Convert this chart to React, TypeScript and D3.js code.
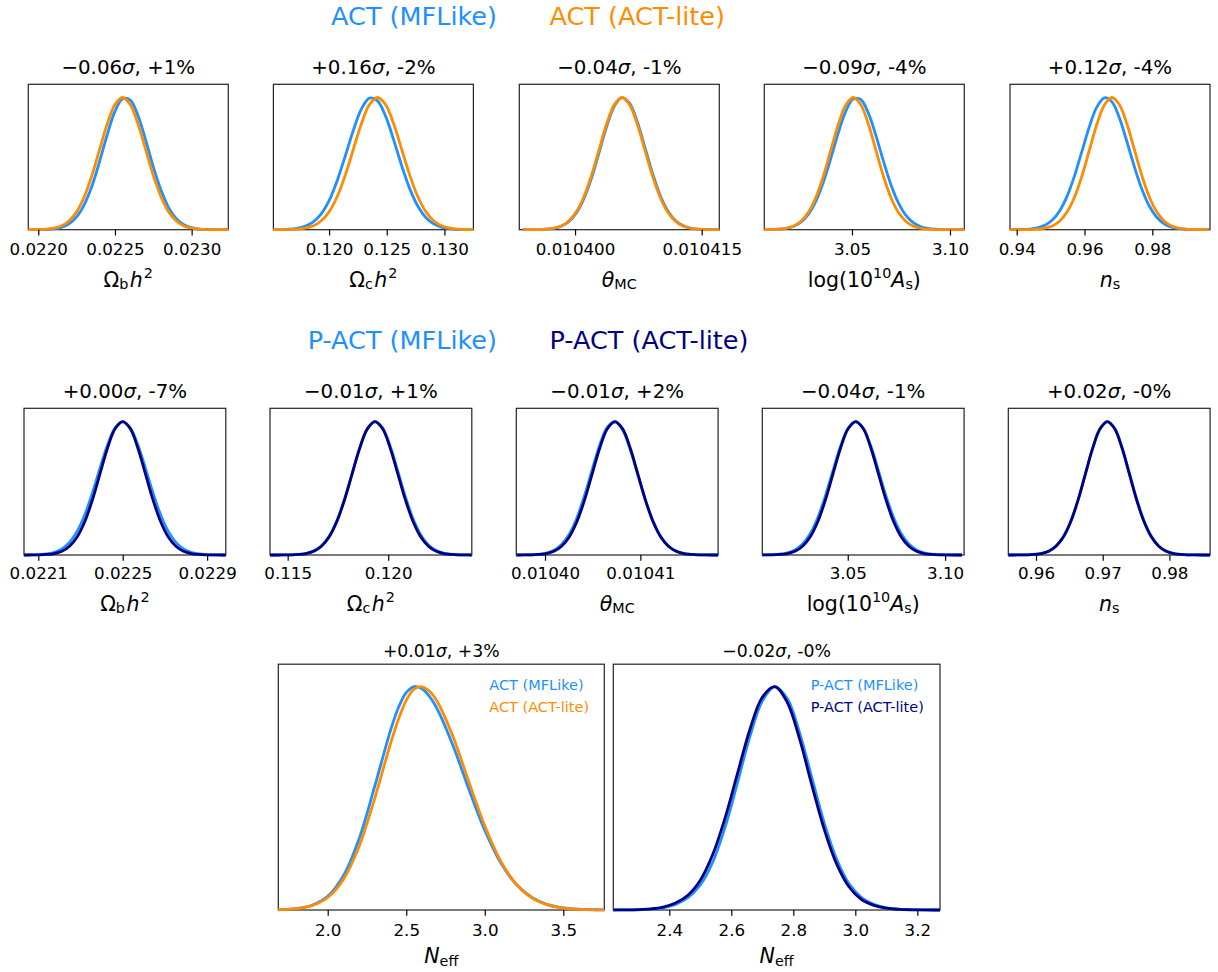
import React, { useEffect, useRef } from 'react';
import * as d3 from 'd3';

const W = 1218;
const H = 972;
const BLUE = '#1e90ff';
const ORANGE = '#ff8c00';
const NAVY = '#000080';
const FONT = '"DejaVu Sans", sans-serif';
const YMAX = 1.1;

// ---------- series labels ----------
const actNames = ['ACT (MFLike)', 'ACT (ACT-lite)'];
const pactNames = ['P-ACT (MFLike)', 'P-ACT (ACT-lite)'];

// ---------- panel titles (shift in sigma, change in error bar) ----------
const actShift = [-0.06, 0.16, -0.04, -0.09, 0.12];
const actWidth = ['+1%', '-2%', '-1%', '-4%', '-4%'];
const pactShift = [0.0, -0.01, -0.01, -0.04, 0.02];
const pactWidth = ['-7%', '+1%', '+2%', '-1%', '-0%'];
const neffShift = [0.01, -0.02];
const neffWidth = ['+3%', '-0%'];

// ---------- parameters ----------
const rowParams = ['ombh2', 'omch2', 'theta', 'logA', 'ns'];

// ---------- axis limits ----------
const actLimits: [number, number][] = [[0.021935, 0.023239], [0.115173, 0.132513], [0.0103934, 0.01041708], [3.00526, 3.1073], [0.93802, 0.99702]];
const pactLimits: [number, number][] = [[0.0220323, 0.0229885], [0.114121, 0.124156], [0.01039699, 0.01041815], [3.00612, 3.10976], [0.95585, 0.9861]];
const neffLimits: [number, number][] = [[1.6854, 3.7611], [2.2194, 3.2732]];

// ---------- tick values / labels ----------
const actTicks = [[0.022, 0.0225, 0.023], [0.12, 0.125, 0.13], [0.0104, 0.010415], [3.05, 3.1], [0.94, 0.96, 0.98]];
const actTickLabels = [['0.0220', '0.0225', '0.0230'], ['0.120', '0.125', '0.130'], ['0.010400', '0.010415'], ['3.05', '3.10'], ['0.94', '0.96', '0.98']];
const pactTicks = [[0.0221, 0.0225, 0.0229], [0.115, 0.12], [0.0104, 0.01041], [3.05, 3.1], [0.96, 0.97, 0.98]];
const pactTickLabels = [['0.0221', '0.0225', '0.0229'], ['0.115', '0.120'], ['0.01040', '0.01041'], ['3.05', '3.10'], ['0.96', '0.97', '0.98']];
const neffTicks = [[2.0, 2.5, 3.0, 3.5], [2.4, 2.6, 2.8, 3.0, 3.2]];
const neffTickLabels = [['2.0', '2.5', '3.0', '3.5'], ['2.4', '2.6', '2.8', '3.0', '3.2']];

// ---------- marginal posteriors (normalised to peak = 1) ----------
// ACT, Omega_b h^2
const actOmbh2X = [0.0219, 0.02195, 0.022, 0.02205, 0.0221, 0.02215, 0.0222, 0.02225, 0.0223, 0.02235, 0.0224, 0.02245, 0.0225, 0.02255, 0.0226, 0.02265, 0.0227, 0.02275, 0.0228, 0.02285, 0.0229, 0.02295, 0.023, 0.02305, 0.0231, 0.02315, 0.0232, 0.02325];
const actOmbh2MF = [0, 0.0002, 0.0006, 0.002, 0.006, 0.018, 0.044, 0.097, 0.19, 0.33, 0.517, 0.72, 0.895, 0.991, 0.98, 0.864, 0.679, 0.475, 0.3, 0.167, 0.083, 0.037, 0.015, 0.005, 0.0016, 0.0005, 0.0001, 0];
const actOmbh2Lite = [0, 0.0003, 0.0012, 0.004, 0.011, 0.028, 0.066, 0.135, 0.249, 0.411, 0.607, 0.801, 0.946, 1, 0.946, 0.801, 0.607, 0.411, 0.249, 0.135, 0.066, 0.028, 0.011, 0.004, 0.0012, 0.0003, 0.0001, 0];
// ACT, Omega_c h^2
const actOmch2X = [0.1151, 0.1158, 0.1165, 0.1172, 0.1179, 0.1186, 0.1193, 0.12, 0.1207, 0.1214, 0.1221, 0.1228, 0.1235, 0.1242, 0.1249, 0.1256, 0.1263, 0.127, 0.1277, 0.1284, 0.1291, 0.1298, 0.1305, 0.1312, 0.1319, 0.1326];
const actOmch2MF = [0.0003, 0.0011, 0.0034, 0.0096, 0.025, 0.057, 0.118, 0.22, 0.371, 0.557, 0.751, 0.912, 0.995, 0.975, 0.859, 0.68, 0.483, 0.309, 0.177, 0.091, 0.043, 0.018, 0.0066, 0.0022, 0.0007, 0.0002];
const actOmch2Lite = [0.0001, 0.0003, 0.0012, 0.004, 0.011, 0.028, 0.066, 0.135, 0.249, 0.411, 0.607, 0.801, 0.946, 1, 0.946, 0.801, 0.607, 0.411, 0.249, 0.135, 0.066, 0.028, 0.011, 0.004, 0.0012, 0.0003];
// ACT, theta_MC
const actThetaX = [0.01039385, 0.01039475, 0.01039565, 0.01039655, 0.01039745, 0.01039835, 0.01039925, 0.01040015, 0.01040105, 0.01040195, 0.01040285, 0.01040375, 0.01040465, 0.01040555, 0.01040645, 0.01040735, 0.01040825, 0.01040915, 0.01041005, 0.01041095, 0.01041185, 0.01041275, 0.01041365, 0.01041455, 0.01041545, 0.01041635, 0.01041725];
const actThetaMF = [0.00007, 0.0003, 0.0011, 0.0034, 0.0099, 0.026, 0.06, 0.126, 0.235, 0.391, 0.584, 0.782, 0.934, 0.999, 0.957, 0.82, 0.629, 0.432, 0.265, 0.146, 0.072, 0.031, 0.0124, 0.0044, 0.0014, 0.0004, 0.0001];
const actThetaLite = [0.0001, 0.0003, 0.0012, 0.004, 0.011, 0.028, 0.066, 0.135, 0.249, 0.411, 0.607, 0.801, 0.946, 1, 0.946, 0.801, 0.607, 0.411, 0.249, 0.135, 0.066, 0.028, 0.011, 0.004, 0.0012, 0.0003, 0.0001];
// ACT, log(10^10 A_s)
const actLogAX = [3.0051, 3.0089, 3.0127, 3.0165, 3.0203, 3.0241, 3.0279, 3.0317, 3.0355, 3.0393, 3.0431, 3.0469, 3.0507, 3.0545, 3.0583, 3.0621, 3.0659, 3.0697, 3.0735, 3.0773, 3.0811, 3.0849, 3.0887, 3.0925, 3.0963, 3.1001, 3.1039, 3.1077];
const actLogAMF = [0.0004, 0.0012, 0.0038, 0.0105, 0.026, 0.059, 0.12, 0.22, 0.365, 0.546, 0.737, 0.899, 0.99, 0.985, 0.884, 0.717, 0.526, 0.348, 0.208, 0.112, 0.055, 0.024, 0.0095, 0.0034, 0.0011, 0.0003, 0.0001, 0];
const actLogALite = [0.0003, 0.0012, 0.004, 0.011, 0.028, 0.066, 0.135, 0.249, 0.411, 0.607, 0.801, 0.946, 1, 0.946, 0.801, 0.607, 0.411, 0.249, 0.135, 0.066, 0.028, 0.011, 0.004, 0.0012, 0.0003, 0.0001, 0.00002, 0];
// ACT, n_s
const actNsX = [0.9373, 0.9395, 0.9417, 0.9439, 0.9461, 0.9483, 0.9505, 0.9527, 0.9549, 0.9571, 0.9593, 0.9615, 0.9637, 0.9659, 0.9681, 0.9703, 0.9725, 0.9747, 0.9769, 0.9791, 0.9813, 0.9835, 0.9857, 0.9879, 0.9901, 0.9923, 0.9945, 0.9967];
const actNsMF = [0.0001, 0.0005, 0.0017, 0.0051, 0.0137, 0.033, 0.073, 0.144, 0.256, 0.411, 0.598, 0.785, 0.931, 0.998, 0.967, 0.845, 0.667, 0.477, 0.307, 0.179, 0.094, 0.045, 0.019, 0.0075, 0.0026, 0.0008, 0.0002, 0.0001];
const actNsLite = [0.00002, 0.0001, 0.0003, 0.0012, 0.004, 0.011, 0.028, 0.066, 0.135, 0.249, 0.411, 0.607, 0.801, 0.946, 1, 0.946, 0.801, 0.607, 0.411, 0.249, 0.135, 0.066, 0.028, 0.011, 0.004, 0.0012, 0.0003, 0.0001];

// P-ACT, Omega_b h^2
const pactOmbh2X = [0.022032, 0.022068, 0.022104, 0.02214, 0.022176, 0.022212, 0.022248, 0.022284, 0.02232, 0.022356, 0.022392, 0.022428, 0.022464, 0.0225, 0.022536, 0.022572, 0.022608, 0.022644, 0.02268, 0.022716, 0.022752, 0.022788, 0.022824, 0.02286, 0.022896, 0.022932, 0.022968, 0.023004];
const pactOmbh2MF = [0.0003, 0.001, 0.003, 0.0081, 0.02, 0.046, 0.095, 0.177, 0.3, 0.463, 0.649, 0.825, 0.953, 1, 0.953, 0.825, 0.649, 0.463, 0.3, 0.177, 0.095, 0.046, 0.02, 0.0081, 0.003, 0.001, 0.0003, 0.0001];
const pactOmbh2Lite = [0.0001, 0.0003, 0.0012, 0.004, 0.011, 0.028, 0.066, 0.135, 0.249, 0.411, 0.607, 0.801, 0.946, 1, 0.946, 0.801, 0.607, 0.411, 0.249, 0.135, 0.066, 0.028, 0.011, 0.004, 0.0012, 0.0003, 0.0001, 0.00002];
// P-ACT, Omega_c h^2
const pactOmch2X = [0.11402, 0.1144, 0.11478, 0.11516, 0.11554, 0.11592, 0.1163, 0.11668, 0.11706, 0.11744, 0.11782, 0.1182, 0.11858, 0.11896, 0.11934, 0.11972, 0.1201, 0.12048, 0.12086, 0.12124, 0.12162, 0.122, 0.12238, 0.12276, 0.12314, 0.12352, 0.1239, 0.12428];
const pactOmch2MF = [0.00003, 0.0001, 0.0004, 0.0014, 0.0044, 0.0122, 0.031, 0.069, 0.14, 0.254, 0.415, 0.607, 0.798, 0.942, 1.0, 0.953, 0.816, 0.627, 0.434, 0.269, 0.15, 0.075, 0.034, 0.0137, 0.0049, 0.0016, 0.0005, 0.0001];
const pactOmch2Lite = [0.00002, 0.0001, 0.0003, 0.0012, 0.004, 0.011, 0.028, 0.066, 0.135, 0.249, 0.411, 0.607, 0.801, 0.946, 1, 0.946, 0.801, 0.607, 0.411, 0.249, 0.135, 0.066, 0.028, 0.011, 0.004, 0.0012, 0.0003, 0.0001];
// P-ACT, theta_MC
const pactThetaX = [0.01039694, 0.01039774, 0.01039854, 0.01039934, 0.01040014, 0.01040094, 0.01040174, 0.01040254, 0.01040334, 0.01040414, 0.01040494, 0.01040574, 0.01040654, 0.01040734, 0.01040814, 0.01040894, 0.01040974, 0.01041054, 0.01041134, 0.01041214, 0.01041294, 0.01041374, 0.01041454, 0.01041534, 0.01041614, 0.01041694, 0.01041774, 0.01041854];
const pactThetaMF = [0.0001, 0.0005, 0.0018, 0.0054, 0.0147, 0.036, 0.079, 0.156, 0.278, 0.445, 0.639, 0.825, 0.958, 0.999, 0.938, 0.79, 0.599, 0.408, 0.25, 0.137, 0.068, 0.03, 0.0121, 0.0043, 0.0014, 0.0004, 0.0001, 0.00003];
const pactThetaLite = [0.0001, 0.0003, 0.0012, 0.004, 0.011, 0.028, 0.066, 0.135, 0.249, 0.411, 0.607, 0.801, 0.946, 1, 0.946, 0.801, 0.607, 0.411, 0.249, 0.135, 0.066, 0.028, 0.011, 0.004, 0.0012, 0.0003, 0.0001, 0.00002];
// P-ACT, log(10^10 A_s)
const pactLogAX = [3.0034, 3.0073, 3.0112, 3.0151, 3.019, 3.0229, 3.0268, 3.0307, 3.0346, 3.0385, 3.0424, 3.0463, 3.0502, 3.0541, 3.058, 3.0619, 3.0658, 3.0697, 3.0736, 3.0775, 3.0814, 3.0853, 3.0892, 3.0931, 3.097, 3.1009, 3.1048, 3.1087];
const pactLogAMF = [0.0002, 0.0006, 0.0021, 0.006, 0.016, 0.038, 0.082, 0.159, 0.279, 0.441, 0.631, 0.815, 0.95, 1, 0.95, 0.815, 0.631, 0.441, 0.279, 0.159, 0.082, 0.038, 0.016, 0.006, 0.0021, 0.0006, 0.0002, 0.00004];
const pactLogALite = [0.0001, 0.0003, 0.0012, 0.004, 0.011, 0.028, 0.066, 0.135, 0.249, 0.411, 0.607, 0.801, 0.946, 1, 0.946, 0.801, 0.607, 0.411, 0.249, 0.135, 0.066, 0.028, 0.011, 0.004, 0.0012, 0.0003, 0.0001, 0.00002];
// P-ACT, n_s
const pactNsX = [0.9553, 0.9564, 0.9575, 0.9586, 0.9597, 0.9608, 0.9619, 0.963, 0.9641, 0.9652, 0.9663, 0.9674, 0.9685, 0.9696, 0.9707, 0.9718, 0.9729, 0.974, 0.9751, 0.9762, 0.9773, 0.9784, 0.9795, 0.9806, 0.9817, 0.9828, 0.9839, 0.985, 0.9861];
const pactNsMF = [0.00002, 0.0001, 0.0003, 0.0013, 0.004, 0.0114, 0.029, 0.067, 0.136, 0.25, 0.411, 0.606, 0.8, 0.944, 1.0, 0.948, 0.806, 0.613, 0.418, 0.255, 0.14, 0.068, 0.03, 0.0118, 0.0042, 0.0013, 0.0004, 0.0001, 0.00002];
const pactNsLite = [0.00002, 0.0001, 0.0003, 0.0012, 0.004, 0.011, 0.028, 0.066, 0.135, 0.249, 0.411, 0.607, 0.801, 0.946, 1, 0.946, 0.801, 0.607, 0.411, 0.249, 0.135, 0.066, 0.028, 0.011, 0.004, 0.0012, 0.0003, 0.0001, 0.00002];

// N_eff, ACT
const actNeffX = [1.6, 1.7, 1.8, 1.9, 2.0, 2.1, 2.2, 2.3, 2.4, 2.45, 2.5, 2.55, 2.6, 2.65, 2.7, 2.8, 2.9, 3.0, 3.1, 3.2, 3.3, 3.4, 3.5, 3.6, 3.7, 3.8];
const actNeffMF = [0.0002, 0.0013, 0.0057, 0.021, 0.061, 0.153, 0.319, 0.555, 0.804, 0.905, 0.973, 1.0, 0.99, 0.954, 0.896, 0.732, 0.538, 0.357, 0.213, 0.115, 0.056, 0.024, 0.0096, 0.0034, 0.0011, 0.0003];
const actNeffLite = [0.0003, 0.0014, 0.0057, 0.0194, 0.056, 0.137, 0.285, 0.501, 0.745, 0.853, 0.938, 0.988, 0.999, 0.978, 0.93, 0.772, 0.571, 0.377, 0.221, 0.116, 0.054, 0.023, 0.0084, 0.0028, 0.0008, 0.0002];
// N_eff, P-ACT
const pactNeffX = [2.18, 2.22, 2.26, 2.3, 2.34, 2.38, 2.42, 2.46, 2.5, 2.54, 2.58, 2.62, 2.66, 2.7, 2.74, 2.78, 2.82, 2.86, 2.9, 2.94, 2.98, 3.02, 3.06, 3.1, 3.14, 3.18, 3.22, 3.26, 3.3];
const pactNeffMF = [0, 0.0001, 0.0004, 0.0012, 0.004, 0.01, 0.025, 0.055, 0.112, 0.214, 0.371, 0.57, 0.776, 0.935, 1.0, 0.947, 0.795, 0.591, 0.389, 0.227, 0.117, 0.056, 0.025, 0.01, 0.004, 0.0015, 0.0005, 0.0001, 0];
const pactNeffLite = [0, 0.0002, 0.0006, 0.0018, 0.005, 0.013, 0.031, 0.066, 0.133, 0.248, 0.412, 0.611, 0.808, 0.952, 1.0, 0.931, 0.767, 0.558, 0.36, 0.205, 0.103, 0.047, 0.021, 0.008, 0.003, 0.001, 0.0003, 0.0001, 0];

// ---------- axis label markup ----------
type Part = { t: string; it?: boolean; pos?: 'sub' | 'sup'; gap?: number };
const LABELS: Record<string, Part[]> = {
  ombh2: [{ t: 'Ω' }, { t: 'b', pos: 'sub' }, { t: 'h', it: true, gap: 1.5 }, { t: '2', pos: 'sup', gap: 1 }],
  omch2: [{ t: 'Ω' }, { t: 'c', pos: 'sub' }, { t: 'h', it: true, gap: 1.5 }, { t: '2', pos: 'sup', gap: 1 }],
  theta: [{ t: 'θ', it: true }, { t: 'MC', pos: 'sub' }],
  logA: [{ t: 'log(10' }, { t: '10', pos: 'sup' }, { t: 'A', it: true }, { t: 's', pos: 'sub' }, { t: ')' }],
  ns: [{ t: 'n', it: true }, { t: 's', pos: 'sub' }],
  neff: [{ t: 'N', it: true }, { t: 'eff', pos: 'sub' }],
};

interface PanelSpec {
  param: string;
  x0: number; y0: number; w: number; h: number;
  limits: [number, number];
  xs: number[];
  series: { ys: number[]; color: string }[];
  ticks: number[]; tickLabels: string[];
  shift: number; pct: string;
  titleSize: number; titleY: number; tickY: number; labelY: number;
  legend?: { x: number; names: string[]; colors: string[] };
}

export default function App() {
  const ref = useRef<SVGSVGElement>(null);

  useEffect(() => {
    const svg = d3.select(ref.current);
    svg.selectAll('*').remove();

    const actXs = [actOmbh2X, actOmch2X, actThetaX, actLogAX, actNsX];
    const actA = [actOmbh2MF, actOmch2MF, actThetaMF, actLogAMF, actNsMF];
    const actB = [actOmbh2Lite, actOmch2Lite, actThetaLite, actLogALite, actNsLite];
    const pactXs = [pactOmbh2X, pactOmch2X, pactThetaX, pactLogAX, pactNsX];
    const pactA = [pactOmbh2MF, pactOmch2MF, pactThetaMF, pactLogAMF, pactNsMF];
    const pactB = [pactOmbh2Lite, pactOmch2Lite, pactThetaLite, pactLogALite, pactNsLite];

    const row1X = [28.3, 273.4, 519.3, 764.3, 1010];
    const row2X = [24, 270, 516.3, 762.3, 1008.3];
    const panels: PanelSpec[] = [];
    rowParams.forEach((p, i) => {
      panels.push({
        param: p, x0: row1X[i], y0: 84.3, w: 200, h: 145.4, limits: actLimits[i], xs: actXs[i],
        series: [{ ys: actA[i], color: BLUE }, { ys: actB[i], color: ORANGE }],
        ticks: actTicks[i], tickLabels: actTickLabels[i], shift: actShift[i], pct: actWidth[i],
        titleSize: 19.8, titleY: 74, tickY: 255, labelY: 286.5,
      });
    });
    rowParams.forEach((p, i) => {
      panels.push({
        param: p, x0: row2X[i], y0: 408.3, w: 201.8, h: 146.7, limits: pactLimits[i], xs: pactXs[i],
        series: [{ ys: pactA[i], color: BLUE }, { ys: pactB[i], color: NAVY }],
        ticks: pactTicks[i], tickLabels: pactTickLabels[i], shift: pactShift[i], pct: pactWidth[i],
        titleSize: 19.8, titleY: 398.3, tickY: 579.3, labelY: 610.5,
      });
    });
    panels.push({
      param: 'neff', x0: 278.3, y0: 664.2, w: 326, h: 245.8, limits: neffLimits[0], xs: actNeffX,
      series: [{ ys: actNeffMF, color: BLUE }, { ys: actNeffLite, color: ORANGE }],
      ticks: neffTicks[0], tickLabels: neffTickLabels[0], shift: neffShift[0], pct: neffWidth[0],
      titleSize: 17.3, titleY: 656.7, tickY: 936, labelY: 963,
      legend: { x: 489.3, names: actNames, colors: [BLUE, ORANGE] },
    });
    panels.push({
      param: 'neff', x0: 613.3, y0: 664.2, w: 326.7, h: 245.8, limits: neffLimits[1], xs: pactNeffX,
      series: [{ ys: pactNeffMF, color: BLUE }, { ys: pactNeffLite, color: NAVY }],
      ticks: neffTicks[1], tickLabels: neffTickLabels[1], shift: neffShift[1], pct: neffWidth[1],
      titleSize: 17.3, titleY: 656.7, tickY: 936, labelY: 963,
      legend: { x: 810.7, names: pactNames, colors: [BLUE, NAVY] },
    });

    const defs = svg.append('defs');

    panels.forEach((p, i) => {
      const x = d3.scaleLinear().domain(p.limits).range([p.x0, p.x0 + p.w]);
      const y = d3.scaleLinear().domain([0, YMAX]).range([p.y0 + p.h, p.y0]);
      const g = svg.append('g');
      const clipId = `clip-${i}`;
      defs.append('clipPath').attr('id', clipId)
        .append('rect').attr('x', p.x0).attr('y', p.y0).attr('width', p.w).attr('height', p.h + 2.5);

      g.append('rect').attr('x', p.x0).attr('y', p.y0).attr('width', p.w).attr('height', p.h)
        .attr('fill', 'none').attr('stroke', '#222').attr('stroke-width', 1.2);

      const line = d3.line<number>()
        .x((_, j) => x(p.xs[j]))
        .y((d) => y(d))
        .curve(d3.curveCatmullRom.alpha(0.5));
      p.series.forEach((s) => {
        g.append('path').attr('d', line(s.ys) as string)
          .attr('fill', 'none').attr('stroke', s.color).attr('stroke-width', 2.8)
          .attr('stroke-linejoin', 'round').attr('clip-path', `url(#${clipId})`);
      });

      const axis = d3.axisBottom(x).tickValues(p.ticks)
        .tickFormat((_, j) => p.tickLabels[j]).tickSize(5.8).tickPadding(6);
      const ag = g.append('g').attr('transform', `translate(0,${p.y0 + p.h})`).call(axis as any);
      ag.select('.domain').remove();
      ag.attr('font-size', 16.7).attr('font-family', FONT);
      ag.selectAll('.tick line').attr('stroke', '#000').attr('stroke-width', 1.2);
      ag.selectAll('.tick text').attr('fill', '#000').attr('y', p.tickY - (p.y0 + p.h)).attr('dy', 0);

      const cx = p.x0 + p.w / 2;
      const tt = g.append('text').attr('x', cx).attr('y', p.titleY).attr('text-anchor', 'middle')
        .attr('font-size', p.titleSize).attr('font-family', FONT).attr('fill', '#000');
      const s = p.shift < 0 ? '\u2212' + Math.abs(p.shift).toFixed(2) : '+' + p.shift.toFixed(2);
      tt.append('tspan').text(s);
      tt.append('tspan').attr('font-style', 'italic').text('σ');
      tt.append('tspan').text(', ' + p.pct);

      const F = 20.5;
      const lt = g.append('text').attr('x', cx).attr('y', p.labelY).attr('text-anchor', 'middle')
        .attr('font-size', F).attr('font-family', FONT).attr('fill', '#000');
      let cur = 0;
      LABELS[p.param].forEach((part) => {
        const target = part.pos === 'sub' ? 0.13 * F : part.pos === 'sup' ? -0.42 * F : 0;
        const ts = lt.append('tspan').text(part.t).attr('dy', target - cur);
        if (part.gap) ts.attr('dx', part.gap);
        if (part.pos) ts.attr('font-size', F * 0.7);
        if (part.it) ts.attr('font-style', 'italic');
        cur = target;
      });

      if (p.legend) {
        p.legend.names.forEach((n, k) => {
          g.append('text').attr('x', p.legend!.x).attr('y', 690 + k * 22.4)
            .attr('font-size', 14.5).attr('font-family', FONT).attr('fill', p.legend!.colors[k]).text(n);
        });
      }
    });

    const sup = (txt: string, xx: number, yy: number, anchor: string, color: string) =>
      svg.append('text').attr('x', xx).attr('y', yy).attr('text-anchor', anchor)
        .attr('font-size', 25.5).attr('font-family', FONT).attr('fill', color).text(txt);
    sup(actNames[0], 497, 25, 'end', BLUE);
    sup(actNames[1], 549.5, 25, 'start', ORANGE);
    sup(pactNames[0], 497, 349, 'end', BLUE);
    sup(pactNames[1], 549.5, 349, 'start', NAVY);
  }, []);

  return (
    <div style={{ position: 'absolute', left: 0, top: 0 }}>
      <svg ref={ref} width={W} height={H} style={{ display: 'block', background: '#fff' }} />
    </div>
  );
}
